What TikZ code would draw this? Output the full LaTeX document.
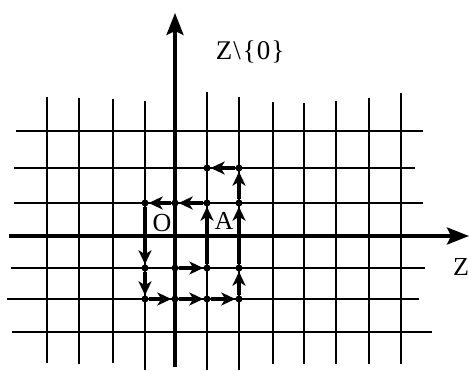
\documentclass[tikz,border=0pt]{standalone}
\usepackage{fontspec}
\setmainfont{Liberation Serif}
\usetikzlibrary{arrows.meta}
\begin{document}
\begin{tikzpicture}[x=1pt, y=1pt,
    gridline/.style={line width=1.8pt},
    axis/.style={line width=3.4pt, -{Stealth[length=22pt,width=17pt,inset=4pt]}},
    walk/.style={line width=3.4pt, -{Stealth[length=14pt,width=13pt,inset=4pt]}},
    dot/.style={circle, fill, inner sep=0pt, minimum size=7pt},
    lbl/.style={font=\fontsize{26}{30}\selectfont, inner sep=0pt}]
    \useasboundingbox (0,0) rectangle (469,370);
    % grid, vertical
    \foreach \x/\t/\b in {47/273/7, 79/272/6, 113/271/7, 145/269/0, 207/278/0, 239/273/0,
                          273/268/6, 304/267/6, 336/269/6, 369/272/6, 401/277/6}
        \draw[gridline] (\x,\b) -- (\x,\t);
    % grid, horizontal
    \foreach \y/\l/\r in {239/16/423, 202/14/415, 167/14/423, 102/11/425, 71/7/419, 38/12/432}
        \draw[gridline] (\l,\y) -- (\r,\y);
    % axes
    \coordinate (xs) at (9,134);
    \coordinate (xe) at (469,134);
    \coordinate (ys) at (175,3);
    \coordinate (ye) at (175,357);
    \draw[axis] (xs) -- (xe);
    \draw[axis] (ys) -- (ye);
    \node[lbl, font=\fontsize{27}{30}\selectfont] (zy) at (250,318)
        {Z\hspace{1pt}\textbackslash\hspace{2pt}\{\hspace{1pt}0\hspace{1pt}\}};
    \node[lbl] (zx) at (461,103) {Z};
    \node[lbl] (o) at (162,147) {O};
    \node[lbl] (a) at (224,149) {A};
    % the walk
    \node[dot] (p0) at (175,102) {};
    \node[dot] (p1) at (207,102) {};
    \node[dot] (p2) at (207,167) {};
    \node[dot] (p3) at (175,167) {};
    \node[dot] (p4) at (145,167) {};
    \node[dot] (p5) at (145,102) {};
    \node[dot] (p6) at (145,71) {};
    \node[dot] (p7) at (175,71) {};
    \node[dot] (p8) at (207,71) {};
    \node[dot] (p9) at (239,71) {};
    \node[dot] (p10) at (239,102) {};
    \node[dot] (p11) at (239,167) {};
    \node[dot] (p12) at (239,202) {};
    \node[dot] (p13) at (207,202) {};
    \foreach \i/\j in {0/1, 1/2, 2/3, 3/4, 4/5, 5/6, 6/7, 7/8, 8/9, 9/10, 10/11, 11/12, 12/13}
        \draw[walk] (p\i) -- (p\j);
\end{tikzpicture}
\end{document}
